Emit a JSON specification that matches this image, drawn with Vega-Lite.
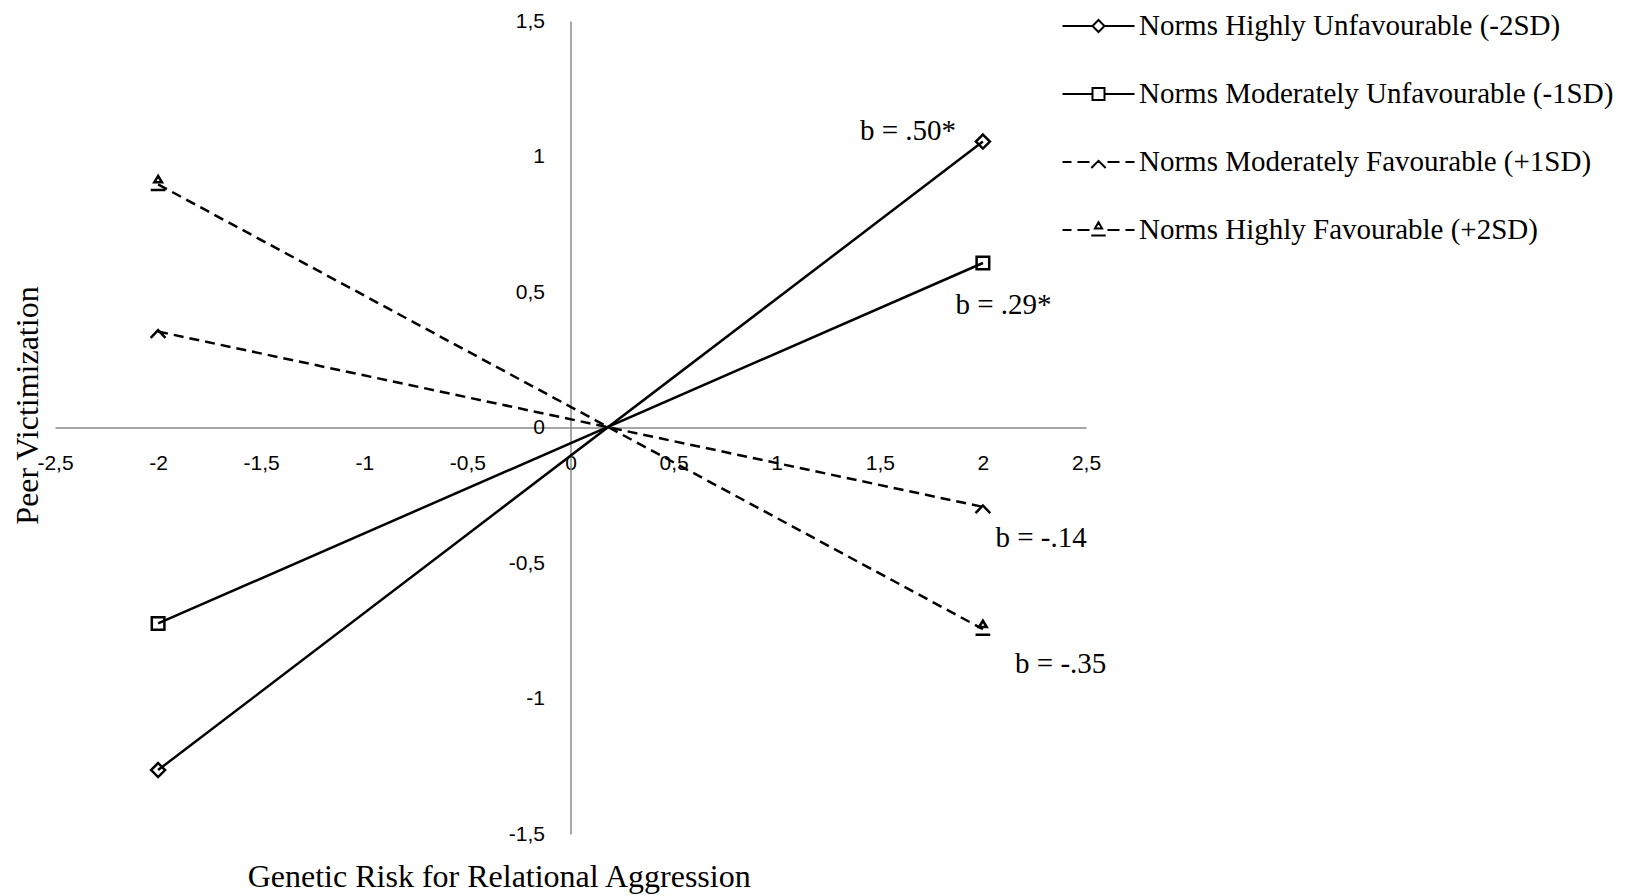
{
  "$schema": "https://vega.github.io/schema/vega-lite/v6.json",
  "width": 1031,
  "height": 813,
  "autosize": {"type": "none"},
  "padding": {"left": 55, "top": 21, "right": 543, "bottom": 62},
  "background": "white",
  "config": {"view": {"stroke": null}},
  "datasets": {
    "lines": [
      {"norm": "Norms Highly Unfavourable (-2SD)", "x": -2, "y": -1.264},
      {"norm": "Norms Highly Unfavourable (-2SD)", "x": 2, "y": 1.055},
      {"norm": "Norms Moderately Unfavourable (-1SD)", "x": -2, "y": -0.723},
      {"norm": "Norms Moderately Unfavourable (-1SD)", "x": 2, "y": 0.607},
      {"norm": "Norms Moderately Favourable (+1SD)", "x": -2, "y": 0.354},
      {"norm": "Norms Moderately Favourable (+1SD)", "x": 2, "y": -0.293},
      {"norm": "Norms Highly Favourable (+2SD)", "x": -2, "y": 0.897},
      {"norm": "Norms Highly Favourable (+2SD)", "x": 2, "y": -0.744}
    ],
    "notes": [
      {"label": "b = .50*", "x": 1.404, "y": 1.094},
      {"label": "b = .29*", "x": 1.867, "y": 0.452},
      {"label": "b = -.14", "x": 2.061, "y": -0.408},
      {"label": "b = -.35", "x": 2.156, "y": -0.873}
    ]
  },
  "encoding": {
    "x": {
      "field": "x",
      "type": "quantitative",
      "scale": {"domain": [-2.5, 2.5], "nice": false, "zero": false},
      "axis": {
        "title": "Genetic Risk for Relational Aggression",
        "orient": "bottom",
        "offset": -406.5,
        "values": [-2.5, -2, -1.5, -1, -0.5, 0, 0.5, 1, 1.5, 2, 2.5],
        "labelExpr": "replace(replace(format(datum.value, '.1~f'), '.', ','), '−', '-')",
        "ticks": false,
        "grid": false,
        "domainColor": "#898989",
        "domainWidth": 1.5,
        "labelFont": "Liberation Sans",
        "labelFontSize": 21,
        "labelColor": "black",
        "labelPadding": 25,
        "labelFlush": false,
        "labelOverlap": false,
        "titleFont": "Liberation Serif",
        "titleFontSize": 32,
        "titleFontWeight": "normal",
        "titleColor": "black",
        "titleX": 443.7,
        "titleY": 458.5,
        "titleAlign": "center",
        "titleBaseline": "alphabetic",
        "titleAngle": 0
      }
    },
    "y": {
      "field": "y",
      "type": "quantitative",
      "scale": {"domain": [-1.5, 1.5], "nice": false, "zero": false},
      "axis": {
        "title": "Peer Victimization",
        "orient": "left",
        "offset": -515.5,
        "values": [-1.5, -1, -0.5, 0, 0.5, 1, 1.5],
        "labelExpr": "replace(replace(format(datum.value, '.1~f'), '.', ','), '−', '-')",
        "ticks": false,
        "grid": false,
        "domainColor": "#898989",
        "domainWidth": 1.5,
        "labelFont": "Liberation Sans",
        "labelFontSize": 21,
        "labelColor": "black",
        "labelPadding": 26,
        "labelFlush": false,
        "labelOverlap": false,
        "titleFont": "Liberation Serif",
        "titleFontSize": 32,
        "titleFontWeight": "normal",
        "titleColor": "black",
        "titleX": -533.5,
        "titleY": 384,
        "titleAlign": "center",
        "titleBaseline": "alphabetic",
        "titleAngle": 270
      }
    }
  },
  "layer": [
    {
      "data": {"name": "lines"},
      "transform": [{"filter": {"field": "norm", "oneOf": ["Norms Highly Unfavourable (-2SD)", "Norms Moderately Unfavourable (-1SD)"]}}],
      "mark": {"type": "line", "color": "black", "strokeWidth": 2.5},
      "encoding": {
        "detail": {"field": "norm", "type": "nominal"}
      }
    },
    {
      "data": {"name": "lines"},
      "transform": [{"filter": {"field": "norm", "oneOf": ["Norms Moderately Favourable (+1SD)", "Norms Highly Favourable (+2SD)"]}}],
      "mark": {"type": "line", "color": "black", "strokeWidth": 2.5, "strokeDash": [10, 6]},
      "encoding": {
        "detail": {"field": "norm", "type": "nominal"}
      }
    },
    {
      "data": {"name": "lines"},
      "transform": [{"filter": {"field": "norm", "equal": "Norms Highly Unfavourable (-2SD)"}}],
      "mark": {"type": "point", "shape": "M0,-1L1,0L0,1L-1,0Z", "filled": false, "size": 196, "strokeWidth": 2.5, "color": "black", "opacity": 1}
    },
    {
      "data": {"name": "lines"},
      "transform": [{"filter": {"field": "norm", "equal": "Norms Moderately Unfavourable (-1SD)"}}],
      "mark": {"type": "point", "shape": "M-0.9,-0.9L0.9,-0.9L0.9,0.9L-0.9,0.9Z", "filled": false, "size": 196, "strokeWidth": 2.5, "color": "black", "opacity": 1}
    },
    {
      "data": {"name": "lines"},
      "transform": [{"filter": {"field": "norm", "equal": "Norms Moderately Favourable (+1SD)"}}],
      "mark": {"type": "point", "shape": "M-1.05,0.9L0,-0.2L1.05,0.9", "filled": false, "size": 196, "strokeWidth": 2.5, "color": "black", "opacity": 1}
    },
    {
      "data": {"name": "lines"},
      "transform": [{"filter": {"field": "norm", "equal": "Norms Highly Favourable (+2SD)"}}],
      "mark": {"type": "point", "shape": "M-0.55,-0.3L0,-1.2L0.55,-0.3ZM-1.05,0.8L1.05,0.8", "filled": false, "size": 196, "strokeWidth": 2.5, "color": "black", "opacity": 1}
    },
    {
      "data": {"name": "lines"},
      "mark": {"type": "point", "filled": false, "size": 144, "strokeWidth": 2, "color": "black", "opacity": 0},
      "encoding": {
        "shape": {
          "field": "norm",
          "type": "nominal",
          "scale": {
            "domain": ["Norms Highly Unfavourable (-2SD)", "Norms Moderately Unfavourable (-1SD)", "Norms Moderately Favourable (+1SD)", "Norms Highly Favourable (+2SD)"],
            "range": [
              "M-6,0L-1,0M1,0L6,0M0,-1L1,0L0,1L-1,0Z",
              "M-6,0L-1,0M1,0L6,0M-1,-1L1,-1L1,1L-1,1Z",
              "M-6,0L-4.5,0M-3.5,0L-1.5,0M1.5,0L3.5,0M4.5,0L6,0M-1.2,1L0,-0.2L1.2,1",
              "M-6,0L-4.5,0M-3.5,0L-1.5,0M1.5,0L3.5,0M4.5,0L6,0M-0.6,-0.25L0,-1.3L0.6,-0.25ZM-1.2,0.92L1.2,0.92"
            ]
          },
          "legend": {
            "title": null,
            "orient": "none",
            "legendX": 1000,
            "legendY": -9.5,
            "direction": "vertical",
            "columns": 1,
            "padding": 0,
            "rowPadding": 38,
            "symbolSize": 144,
            "symbolStrokeWidth": 2,
            "symbolStrokeColor": "black",
            "symbolFillColor": "transparent",
            "symbolOpacity": 1,
            "symbolOffset": 29,
            "labelOffset": 26,
            "labelFont": "Liberation Serif",
            "labelFontSize": 29,
            "labelColor": "black",
            "labelLimit": 1000
          }
        }
      }
    },
    {
      "data": {"name": "notes"},
      "mark": {"type": "text", "font": "Liberation Serif", "fontSize": 29, "align": "left", "baseline": "middle", "color": "black"},
      "encoding": {
        "text": {"field": "label", "type": "nominal"}
      }
    }
  ]
}
